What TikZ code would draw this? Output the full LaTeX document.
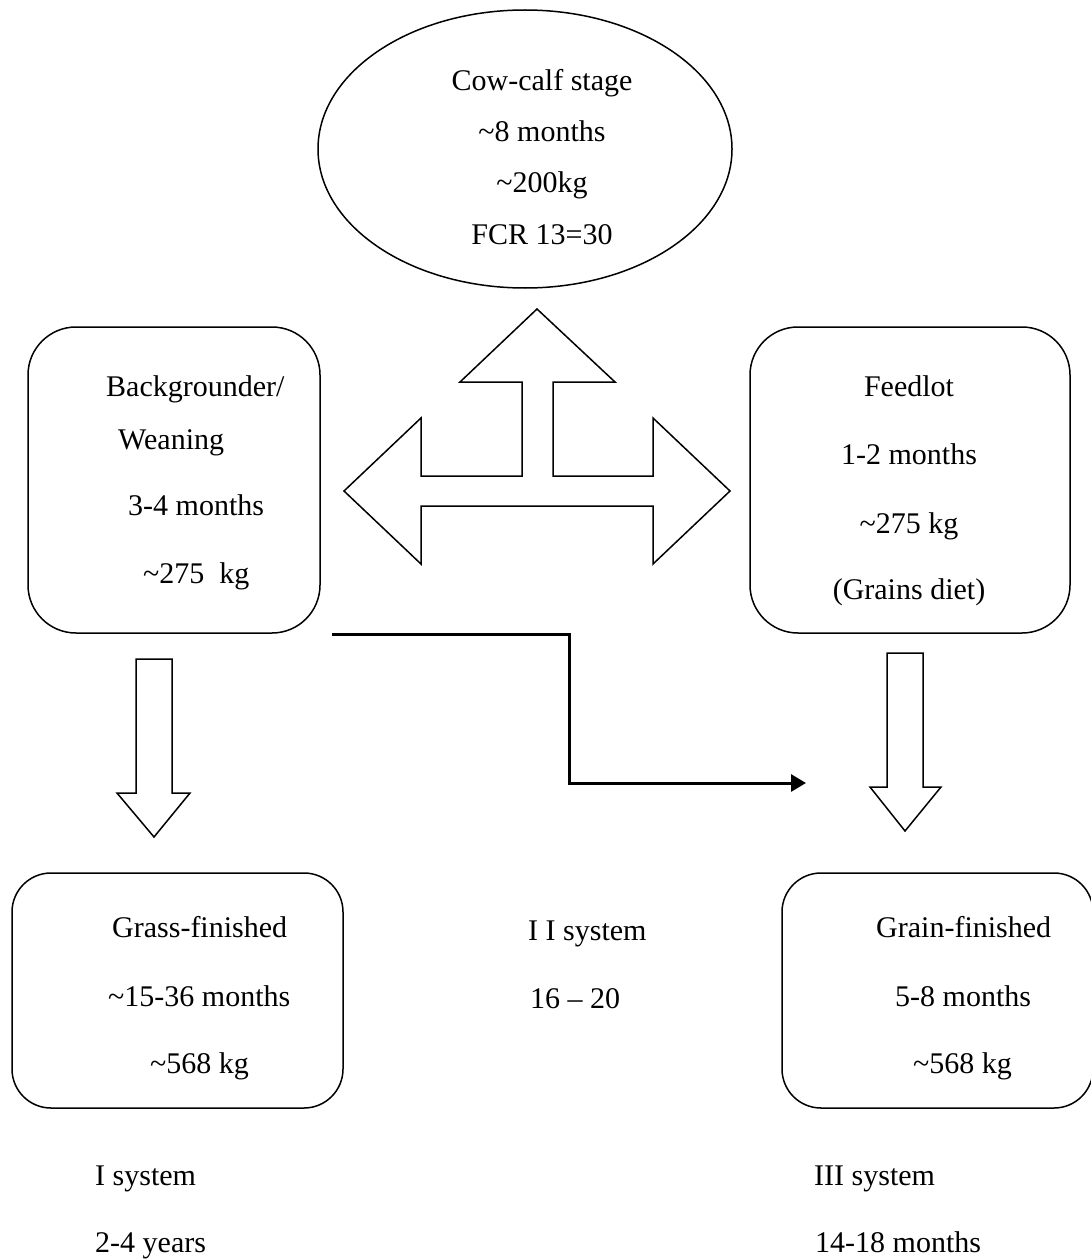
\documentclass[tikz,border=0pt]{standalone}
\usepackage{fontspec}
\setmainfont{Liberation Serif}
\usetikzlibrary{shapes.geometric,arrows.meta}
\begin{document}
\begin{tikzpicture}[x=1pt,y=-1pt,
  every node/.style={font=\fontsize{30}{36}\selectfont, inner sep=0pt},
  stagebox/.style={draw, line width=1.5pt, rounded corners=#1},
  stageoval/.style={draw, line width=1.5pt, ellipse, inner sep=0pt},
  txt/.style={anchor=base west},
  ctxt/.style={anchor=base},
  blockarrow/.style={draw, line width=1.5pt, line join=miter, fill=white},
  flow/.style={line width=3pt, -{Triangle[length=15pt,width=17pt]}}]

\useasboundingbox (0,0) rectangle (1091,1260);

% ---- cow-calf stage ----
\node[stageoval, minimum width=414pt, minimum height=278pt] (cow) at (525,149) {};
\node[ctxt] (cow1) at (542,91)  {Cow-calf stage};
\node[ctxt] (cow2) at (542,142) {\textasciitilde 8 months};
\node[ctxt] (cow3) at (542,193) {\textasciitilde 200kg};
\node[ctxt] (cow4) at (542,244) {FCR 13=30};

% ---- backgrounder / weaning ----
\node[stagebox=48pt, minimum width=292pt, minimum height=306pt] (bg) at (174,480) {};
\node[txt] (bg1) at (106,396) {Backgrounder/};
\node[txt] (bg2) at (118,449) {Weaning};
\node[txt] (bg3) at (128,515) {3-4 months};
\node[txt] (bg4) at (143,583) {\textasciitilde 275\ \ kg};

% ---- feedlot ----
\node[stagebox=48pt, minimum width=320pt, minimum height=306pt] (fl) at (910,480) {};
\node[ctxt] (fl1) at (909,396) {Feedlot};
\node[ctxt] (fl2) at (909,464) {1-2 months};
\node[ctxt] (fl3) at (909,533) {\textasciitilde 275 kg};
\node[ctxt] (fl4) at (909,599) {(Grains diet)};

% ---- grass-finished ----
\node[stagebox=39pt, minimum width=331pt, minimum height=235pt] (gf) at (177.5,990.5) {};
\node[txt] (gf1) at (112,937) {Grass-finished};
\node[txt] (gf2) at (108,1006) {\textasciitilde 15-36 months};
\node[txt] (gf3) at (150,1073) {\textasciitilde 568 kg};

% ---- grain-finished ----
\node[stagebox=39pt, minimum width=311pt, minimum height=235pt] (gr) at (937.5,990.5) {};
\node[txt] (gr1) at (876,937) {Grain-finished};
\node[txt] (gr2) at (895,1006) {5-8 months};
\node[txt] (gr3) at (913,1073) {\textasciitilde 568 kg};

% ---- system labels ----
\node[txt] (s2a) at (528,940) {I I system};
\node[txt] (s2b) at (530,1008) {16 -- 20};
\node[txt] (s1a) at (95,1185) {I system};
\node[txt] (s1b) at (95,1252) {2-4 years};
\node[txt] (s3a) at (814,1185) {III system};
\node[txt] (s3b) at (815,1252) {14-18 months};

% ---- three-way block arrow ----
\draw[blockarrow]
  (537,309) -- (615,382) -- (553,382) -- (553,476) -- (653,476) -- (653,418)
  -- (730,491) -- (653,564) -- (653,506) -- (421,506) -- (421,564)
  -- (344,491) -- (421,418) -- (421,476) -- (522,476) -- (522,382)
  -- (460,382) -- cycle;

% ---- downward block arrows ----
\draw[blockarrow]
  (136,659) -- (172,659) -- (172,793) -- (190,793) -- (154,837)
  -- (117,793) -- (136,793) -- cycle;
\draw[blockarrow]
  (887,653) -- (923,653) -- (923,787) -- (941,787) -- (905,831)
  -- (870,787) -- (887,787) -- cycle;

% ---- elbow connector ----
\coordinate (fromBg) at (332,634);
\coordinate (toGrain) at (806,783);
\draw[flow] (fromBg) -- ++(237,0) |- (toGrain);

\end{tikzpicture}
\end{document}
